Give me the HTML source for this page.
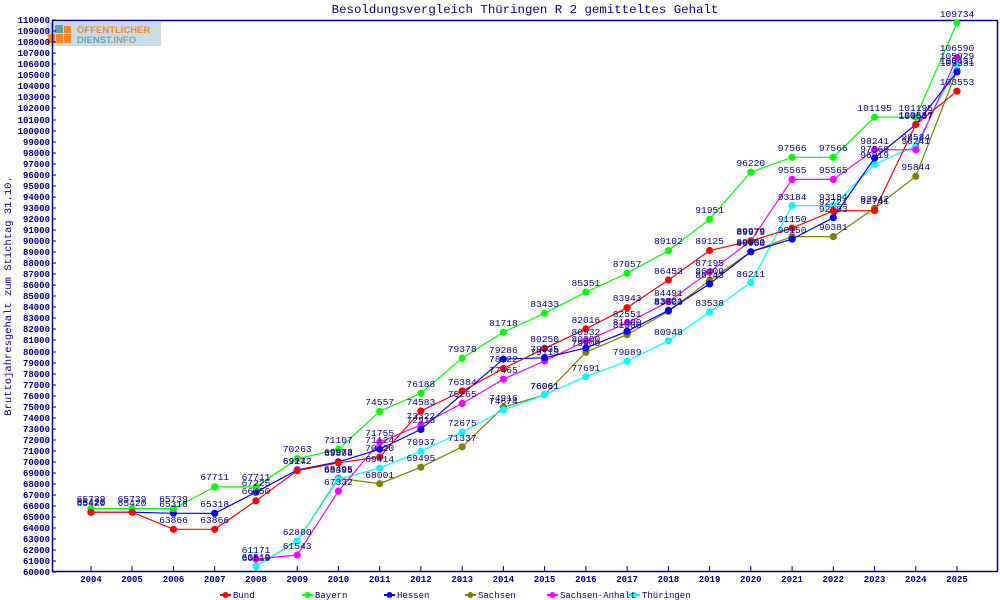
<!DOCTYPE html>
<html><head><meta charset="utf-8"><style>
html,body{margin:0;padding:0;background:#fff;}
svg{display:block;font-family:"Liberation Mono",monospace;}
</style></head><body>
<svg width="1000" height="600" viewBox="0 0 1000 600" xmlns="http://www.w3.org/2000/svg">
<defs>
<marker id="mr" markerUnits="userSpaceOnUse" markerWidth="10" markerHeight="10" refX="5" refY="5"><circle cx="5" cy="5" r="3.6" fill="#ff0000"/></marker>
<marker id="mg" markerUnits="userSpaceOnUse" markerWidth="10" markerHeight="10" refX="5" refY="5"><circle cx="5" cy="5" r="3.6" fill="#00ff00"/></marker>
<marker id="mb" markerUnits="userSpaceOnUse" markerWidth="10" markerHeight="10" refX="5" refY="5"><circle cx="5" cy="5" r="3.6" fill="#0000ff"/></marker>
<marker id="mo" markerUnits="userSpaceOnUse" markerWidth="10" markerHeight="10" refX="5" refY="5"><circle cx="5" cy="5" r="3.6" fill="#808000"/></marker>
<marker id="mm" markerUnits="userSpaceOnUse" markerWidth="10" markerHeight="10" refX="5" refY="5"><circle cx="5" cy="5" r="3.6" fill="#ff00ff"/></marker>
<marker id="mc" markerUnits="userSpaceOnUse" markerWidth="10" markerHeight="10" refX="5" refY="5"><circle cx="5" cy="5" r="3.6" fill="#00ffff"/></marker>
</defs>

<!-- title -->
<text x="525" y="13" font-size="12.4" fill="#000080" text-anchor="middle">Besoldungsvergleich Thüringen R 2 gemitteltes Gehalt</text>

<!-- logo -->
<rect x="47" y="22" width="114" height="24" fill="#c9dbe4"/>
<rect x="48" y="34" width="7" height="9" fill="#f5862a"/><rect x="56" y="34" width="7" height="9" fill="#f5862a"/>
<rect x="64" y="26" width="7" height="7" fill="#f5862a"/><rect x="64" y="34" width="7" height="9" fill="#f5862a"/>
<rect x="55" y="25" width="8" height="8" fill="#5aa3b5"/>
<text x="77" y="33" font-size="9.5" font-weight="bold" fill="#f5862a" font-family="Liberation Sans,sans-serif">ÖFFENTLICHER</text>
<text x="77" y="43" font-size="9.5" font-weight="bold" fill="#6aa6b8" font-family="Liberation Sans,sans-serif">DIENST<tspan fill="#9a9a9a">.INFO</tspan></text>

<!-- frame -->
<rect x="52.5" y="20.5" width="945" height="551" fill="none" stroke="#000080" stroke-width="1.5"/>

<!-- y axis ticks & labels -->
<g stroke="#000080" stroke-width="1">
<path d="M52 572h4M52 561h4M52 550h4M52 539h4M52 528h4M52 517h4M52 506h4M52 495h4M52 484h4M52 473h4M52 462h4M52 451h4M52 440h4M52 429h4M52 418h4M52 407h4M52 396h4M52 385h4M52 374h4M52 363h4M52 352h4M52 340h4M52 329h4M52 318h4M52 307h4M52 296h4M52 285h4M52 274h4M52 263h4M52 252h4M52 241h4M52 230h4M52 219h4M52 208h4M52 197h4M52 186h4M52 175h4M52 164h4M52 153h4M52 142h4M52 131h4M52 120h4M52 108h4M52 97h4M52 86h4M52 75h4M52 64h4M52 53h4M52 42h4M52 31h4M52 20h4"/>
<path d="M91 566v6M132 566v6M173.5 566v6M214.7 566v6M256 566v6M297.2 566v6M338.4 566v6M379.7 566v6M420.9 566v6M462.2 566v6M503.4 566v6M544.6 566v6M585.9 566v6M627.1 566v6M668.4 566v6M709.6 566v6M750.8 566v6M792.1 566v6M833.3 566v6M874.6 566v6M915.8 566v6M957 566v6"/>
</g>
<g font-size="9" font-weight="bold" fill="#000080" text-anchor="end">
<text x="50" y="575">60000</text><text x="50" y="564">61000</text><text x="50" y="553">62000</text><text x="50" y="542">63000</text><text x="50" y="531">64000</text><text x="50" y="520">65000</text><text x="50" y="509">66000</text><text x="50" y="498">67000</text><text x="50" y="487">68000</text><text x="50" y="476">69000</text><text x="50" y="465">70000</text><text x="50" y="454">71000</text><text x="50" y="443">72000</text><text x="50" y="432">73000</text><text x="50" y="421">74000</text><text x="50" y="410">75000</text><text x="50" y="399">76000</text><text x="50" y="388">77000</text><text x="50" y="377">78000</text><text x="50" y="366">79000</text><text x="50" y="355">80000</text><text x="50" y="343">81000</text><text x="50" y="332">82000</text><text x="50" y="321">83000</text><text x="50" y="310">84000</text><text x="50" y="299">85000</text><text x="50" y="288">86000</text><text x="50" y="277">87000</text><text x="50" y="266">88000</text><text x="50" y="255">89000</text><text x="50" y="244">90000</text><text x="50" y="233">91000</text><text x="50" y="222">92000</text><text x="50" y="211">93000</text><text x="50" y="200">94000</text><text x="50" y="189">95000</text><text x="50" y="178">96000</text><text x="50" y="167">97000</text><text x="50" y="156">98000</text><text x="50" y="145">99000</text><text x="50" y="134">100000</text><text x="50" y="123">101000</text><text x="50" y="111">102000</text><text x="50" y="100">103000</text><text x="50" y="89">104000</text><text x="50" y="78">105000</text><text x="50" y="67">106000</text><text x="50" y="56">107000</text><text x="50" y="45">108000</text><text x="50" y="34">109000</text><text x="50" y="23">110000</text>
</g>
<g font-size="9" font-weight="bold" fill="#000080" text-anchor="middle">
<text x="91" y="582">2004</text><text x="132" y="582">2005</text><text x="173.5" y="582">2006</text><text x="214.7" y="582">2007</text><text x="256" y="582">2008</text><text x="297.2" y="582">2009</text><text x="338.4" y="582">2010</text><text x="379.7" y="582">2011</text><text x="420.9" y="582">2012</text><text x="462.2" y="582">2013</text><text x="503.4" y="582">2014</text><text x="544.6" y="582">2015</text><text x="585.9" y="582">2016</text><text x="627.1" y="582">2017</text><text x="668.4" y="582">2018</text><text x="709.6" y="582">2019</text><text x="750.8" y="582">2020</text><text x="792.1" y="582">2021</text><text x="833.3" y="582">2022</text><text x="874.6" y="582">2023</text><text x="915.8" y="582">2024</text><text x="957" y="582">2025</text>
</g>
<text transform="translate(11,296) rotate(-90)" font-size="10.5" fill="#000080" text-anchor="middle">Bruttojahresgehalt zum Stichtag 31.10.</text>

<!-- series -->
<g fill="none" stroke-width="1.2">
<polyline stroke="#808000" marker-start="url(#mo)" marker-mid="url(#mo)" marker-end="url(#mo)" points="256,566.3 297.2,541.1 338.4,478.2 379.7,483.7 420.9,467.2 462.2,446.8 503.4,407.3 544.6,394.7 585.9,352.3 627.1,334.6 668.4,311.5 709.6,280.5 750.8,251.8 792.1,236.6 833.3,236.6 874.6,208.3 915.8,176.3 957,70.4"/>
<polyline stroke="#00ffff" marker-start="url(#mc)" marker-mid="url(#mc)" marker-end="url(#mc)" points="256,566.3 297.2,541.1 338.4,479.3 379.7,468.1 420.9,451.3 462.2,432.1 503.4,410 544.6,394.7 585.9,376.7 627.1,361.3 668.4,340.7 709.6,312.1 750.8,282.6 792.1,205.6 833.3,205.6 874.6,164.4 915.8,146 957,64.9"/>
<polyline stroke="#ff00ff" marker-start="url(#mm)" marker-mid="url(#mm)" marker-end="url(#mm)" points="256,559.1 297.2,555 338.4,491.1 379.7,442.2 420.9,424.9 462.2,403.5 503.4,379.2 544.6,360.9 585.9,340.9 627.1,323 668.4,301.6 709.6,271.8 750.8,241 792.1,179.4 833.3,179.4 874.6,149.8 915.8,149.8 957,57.6"/>
<polyline stroke="#0000ff" marker-start="url(#mb)" marker-mid="url(#mb)" marker-end="url(#mb)" points="91,512.2 132.2,512.2 173.5,513.3 214.7,513.3 256,492.2 297.2,470 338.4,461.9 379.7,449.2 420.9,429.4 503.4,359.1 544.6,357.8 585.9,347.9 627.1,331.3 668.4,310.4 709.6,283.9 750.8,251.8 792.1,239.1 833.3,217.6 874.6,158 915.8,124.5 957,71.9"/>
<polyline stroke="#00ff00" marker-start="url(#mg)" marker-mid="url(#mg)" marker-end="url(#mg)" points="91,508.6 132.2,508.6 173.5,508.6 214.7,486.9 256,486.9 297.2,458.7 338.4,449.4 379.7,411.3 420.9,393.3 462.2,358.1 503.4,332.2 544.6,313.3 585.9,292.1 627.1,273.3 668.4,250.7 709.6,219.3 750.8,172.1 792.1,157.3 833.3,157.3 874.6,117.2 915.8,117.2 957,22.9"/>
<polyline stroke="#ff0000" marker-start="url(#mr)" marker-mid="url(#mr)" marker-end="url(#mr)" points="91,512.2 132.2,512.2 173.5,529.3 214.7,529.3 256,500.8 297.2,470.7 338.4,462.8 379.7,457 420.9,411 462.2,391.1 503.4,368.6 544.6,348.4 585.9,328.9 627.1,307.7 668.4,280 709.6,250.5 750.8,241 792.1,228.1 833.3,210.8 874.6,210.6 915.8,124.5 957,91.2"/>
</g>

<!-- value labels -->
<g font-size="9.6" fill="#000080" text-anchor="middle">
<!-- Bayern -->
<text x="91" y="502">65739</text><text x="132" y="502">65739</text><text x="173.5" y="502">65739</text><text x="214.7" y="480">67711</text><text x="256" y="480">67711</text><text x="297.2" y="452">70263</text><text x="338.4" y="443">71107</text><text x="379.7" y="405">74557</text><text x="420.9" y="387">76188</text><text x="462.2" y="352">79378</text><text x="503.4" y="326">81718</text><text x="544.6" y="307">83433</text><text x="585.9" y="286">85351</text><text x="627.1" y="267">87057</text><text x="668.4" y="244">89102</text><text x="709.6" y="213">91951</text><text x="750.8" y="166">96220</text><text x="792.1" y="151">97566</text><text x="833.3" y="151">97566</text><text x="874.6" y="111">101195</text><text x="915.8" y="111">101195</text><text x="957" y="17">109734</text>
<!-- Bund -->
<text x="91" y="506">65420</text><text x="132" y="506">65420</text><text x="173.5" y="523">63866</text><text x="214.7" y="523">63866</text><text x="256" y="494">66450</text><text x="297.2" y="464">69172</text><text x="338.4" y="456">69888</text><text x="379.7" y="451">70420</text><text x="420.9" y="405">74583</text><text x="462.2" y="385">76384</text><text x="503.4" y="362">78422</text><text x="544.6" y="342">80250</text><text x="585.9" y="323">82016</text><text x="627.1" y="301">83943</text><text x="668.4" y="274">86453</text><text x="709.6" y="244">89125</text><text x="750.8" y="235">89979</text><text x="792.1" y="222">91150</text><text x="833.3" y="205">92721</text><text x="874.6" y="204">92741</text><text x="915.8" y="118">100537</text><text x="957" y="85">103553</text>
<!-- Hessen -->
<text x="91" y="505">65420</text><text x="173.5" y="507">65318</text><text x="214.7" y="507">65318</text><text x="256" y="486">67225</text><text x="297.2" y="464">69242</text><text x="338.4" y="455">69973</text><text x="379.7" y="443">71124</text><text x="420.9" y="423">72913</text><text x="503.4" y="353">79286</text><text x="544.6" y="352">79335</text><text x="585.9" y="342">80300</text><text x="627.1" y="325">81800</text><text x="668.4" y="304">83721</text><text x="709.6" y="278">86143</text><text x="750.8" y="246">89068</text><text x="792.1" y="233">90150</text><text x="833.3" y="212">92103</text><text x="874.6" y="152">97560</text><text x="915.8" y="119">100537</text><text x="957" y="66">105331</text>
<!-- Sachsen -->
<text x="256" y="560">60519</text><text x="338.4" y="472">68495</text><text x="379.7" y="478">68001</text><text x="420.9" y="461">69495</text><text x="462.2" y="441">71337</text><text x="503.4" y="401">74916</text><text x="544.6" y="389">76061</text><text x="585.9" y="346">79900</text><text x="627.1" y="328">81500</text><text x="668.4" y="305">83600</text><text x="709.6" y="274">86400</text><text x="750.8" y="245">89000</text><text x="833.3" y="230">90381</text><text x="874.6" y="202">92942</text><text x="915.8" y="170">95844</text><text x="957" y="64">105431</text>
<!-- Sachsen-Anhalt -->
<text x="256" y="553">61171</text><text x="297.2" y="549">61543</text><text x="338.4" y="485">67332</text><text x="379.7" y="436">71755</text><text x="420.9" y="419">73322</text><text x="462.2" y="397">75265</text><text x="503.4" y="373">77465</text><text x="544.6" y="355">79119</text><text x="585.9" y="335">80932</text><text x="627.1" y="317">82551</text><text x="668.4" y="296">84491</text><text x="709.6" y="266">87195</text><text x="750.8" y="234">89979</text><text x="792.1" y="173">95565</text><text x="833.3" y="173">95565</text><text x="874.6" y="144">98241</text><text x="915.8" y="144">98241</text><text x="957" y="51">106590</text>
<!-- Thüringen -->
<text x="256" y="561">60519</text><text x="297.2" y="535">62800</text><text x="338.4" y="473">68395</text><text x="379.7" y="462">69414</text><text x="420.9" y="445">70937</text><text x="462.2" y="426">72675</text><text x="503.4" y="404">74674</text><text x="544.6" y="389">76061</text><text x="585.9" y="371">77691</text><text x="627.1" y="355">79089</text><text x="668.4" y="335">80948</text><text x="709.6" y="306">83538</text><text x="750.8" y="277">86211</text><text x="792.1" y="200">93184</text><text x="833.3" y="200">93184</text><text x="874.6" y="158">96919</text><text x="915.8" y="140">98584</text><text x="957" y="59">105929</text>
</g>

<!-- legend -->
<g stroke-width="2">
<line x1="220" y1="595" x2="231" y2="595" stroke="#ff0000"/><circle cx="225.5" cy="595" r="3" fill="#ff0000"/>
<line x1="302" y1="595" x2="313" y2="595" stroke="#00ff00"/><circle cx="307.5" cy="595" r="3" fill="#00ff00"/>
<line x1="384" y1="595" x2="395" y2="595" stroke="#0000ff"/><circle cx="389.5" cy="595" r="3" fill="#0000ff"/>
<line x1="465" y1="595" x2="476" y2="595" stroke="#808000"/><circle cx="470.5" cy="595" r="3" fill="#808000"/>
<line x1="547" y1="595" x2="558" y2="595" stroke="#ff00ff"/><circle cx="552.5" cy="595" r="3" fill="#ff00ff"/>
<line x1="628" y1="595" x2="640" y2="595" stroke="#00ffff"/><circle cx="634" cy="595" r="3" fill="#00ffff"/>
</g>
<g font-size="9" fill="#000080">
<text x="233" y="598">Bund</text><text x="315" y="598">Bayern</text><text x="397" y="598">Hessen</text><text x="478" y="598">Sachsen</text><text x="560" y="598">Sachsen-Anhalt</text><text x="642" y="598">Thüringen</text>
</g>
</svg>
</body></html>
